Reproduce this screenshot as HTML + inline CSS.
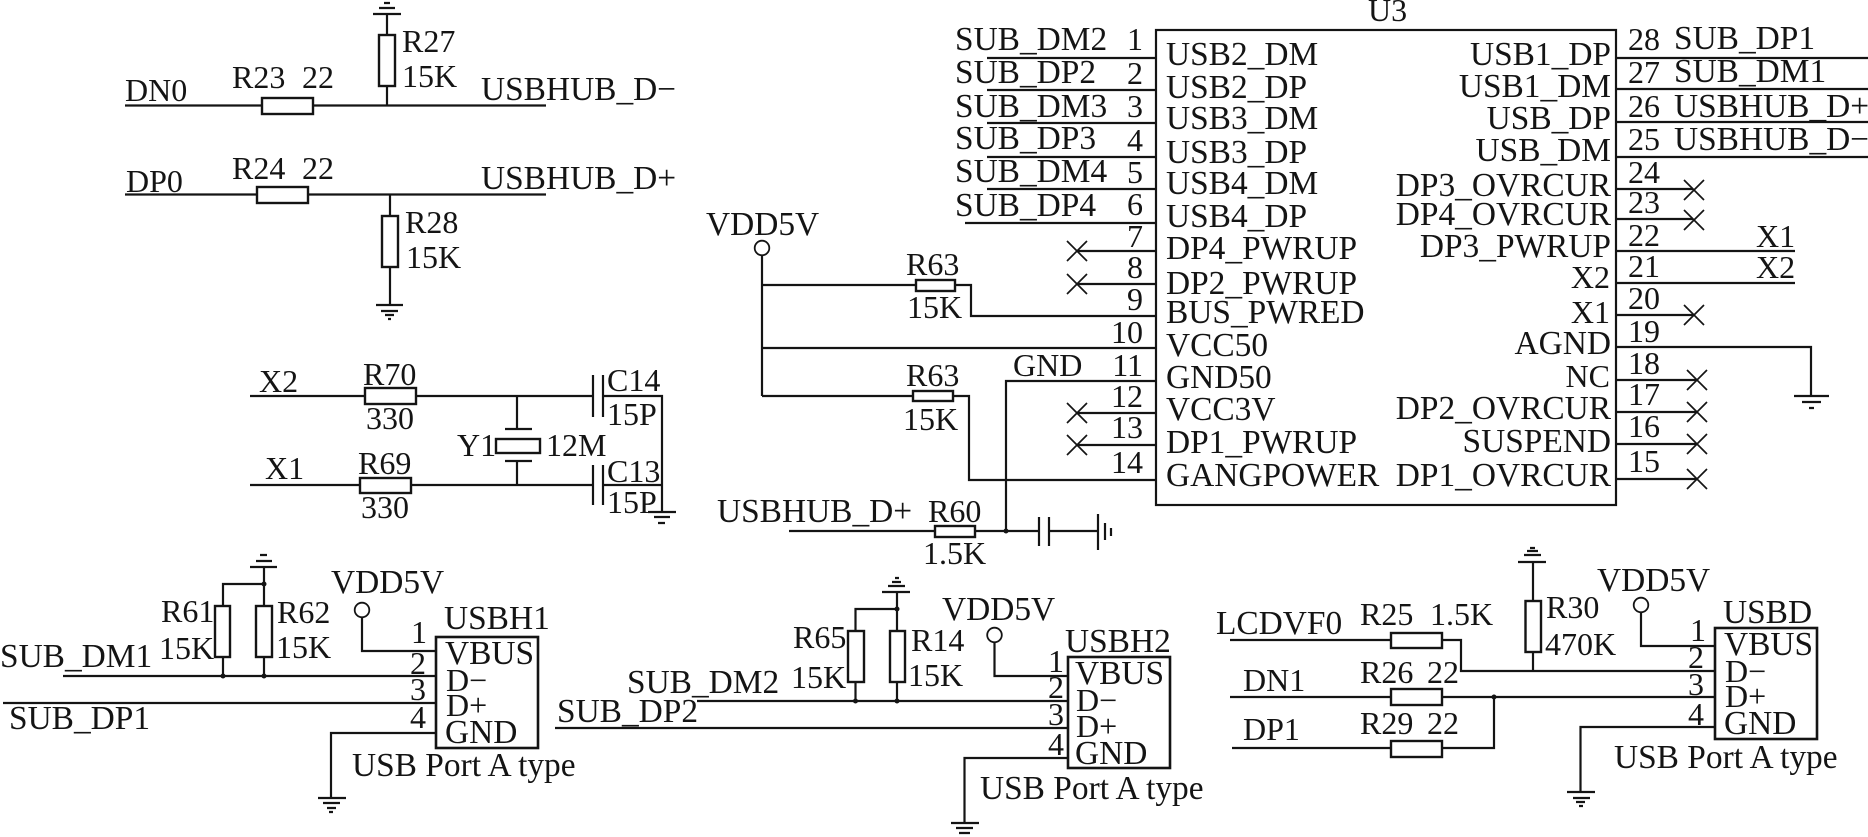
<!DOCTYPE html>
<html><head><meta charset="utf-8"><title>USB hub schematic</title>
<style>
html,body{margin:0;padding:0;background:#fff;width:1868px;height:837px;overflow:hidden}
svg{display:block}
text{font-family:"Liberation Serif",serif;font-size:32px;fill:#141414}
text.l{font-size:33.4px}
.e{text-anchor:end}
.w{fill:none;stroke:#141414;stroke-width:2.2}
.t{fill:none;stroke:#141414;stroke-width:1.7}
.r{fill:#fff;stroke:#141414;stroke-width:2.4}
</style></head><body>
<svg width="1868" height="837" viewBox="0 0 1868 837" xmlns="http://www.w3.org/2000/svg">

<!-- Group 1 -->
<path class="w" d="M125 105.5H262M313 105.5H546M387 14V35M387 86V105.5M125 194.5H257M308 194.5H546M390 194.5V216M390 267V305"/>
<path class="w" d="M373 14H401M379 8H395M384 3H390M376 305H403M381 311H398M385 315H394M388 319H391"/>
<rect class="r" x="262" y="98" width="51" height="16"/>
<rect class="r" x="379" y="35" width="16" height="51"/>
<rect class="r" x="257" y="187" width="51" height="16"/>
<rect class="r" x="382" y="216" width="16" height="51"/>
<text x="125" y="101">DN0</text><text x="232" y="88">R23</text><text x="302" y="88">22</text>
<text x="402" y="52">R27</text><text x="402" y="87">15K</text><text class="l" x="481" y="100">USBHUB_D−</text>
<text x="126" y="192">DP0</text><text x="232" y="179">R24</text><text x="302" y="179">22</text>
<text class="l" x="481" y="189">USBHUB_D+</text><text x="405" y="233">R28</text><text x="406" y="268">15K</text>

<!-- Group 2 crystal -->
<path class="w" d="M250 396H365M416 396H593M603 396H662V512M250 485H360M411 485H593M603 485H662M517 396V429M517 461V485"/>
<path class="w" d="M593 375V417M603 375V417M593 465V505M603 465V505M505 429H532M505 461H532M648 512H676M654 517H670M658 523H665"/>
<rect class="r" x="365" y="388" width="51" height="16"/>
<rect class="r" x="360" y="478" width="51" height="15"/>
<rect class="r" x="496" y="439" width="44" height="14"/>
<text x="259" y="392">X2</text><text x="363" y="385">R70</text><text x="366" y="429">330</text>
<text x="607" y="391">C14</text><text x="607" y="425">15P</text>
<text x="457" y="456">Y1</text><text x="546" y="456">12M</text>
<text x="265" y="479">X1</text><text x="358" y="474">R69</text><text x="361" y="518">330</text>
<text x="607" y="482">C13</text><text x="607" y="513">15P</text>

<!-- U3 -->
<rect class="w" x="1156" y="30" width="460" height="475"/>
<text x="1368" y="21">U3</text>
<path class="w" d="M987 58H1156M987 90H1156M987 123H1156M987 157H1156M987 189H1156M965 223H1156M1076 251H1156M1076 284H1156"/>
<path class="t" d="M1067 241L1087 261M1087 241L1067 261M1067 274L1087 294M1087 274L1067 294M1067 403L1087 423M1087 403L1067 423M1067 435L1087 455M1087 435L1067 455"/>
<path class="w" d="M762 255V396M762 285H916M955 285H971V316H1156M762 348H1156M762 396H913M953 396H969V480H1156M1006 531V381H1156M1076 413H1156M1076 445H1156"/>
<circle class="w" cx="762" cy="248" r="7.3" style="stroke-width:1.8"/>
<rect class="r" x="916" y="280" width="39" height="11"/>
<rect class="r" x="913" y="391" width="40" height="10"/>
<path class="w" d="M789 531H935M975 531H1039M1049 531H1098M1039 517V546M1049 517V546M1098 514V550M1105 523V540M1111 528V536"/>
<rect class="r" x="935" y="526" width="40" height="11"/>
<circle cx="1006" cy="531" r="2.5" fill="#141414"/>

<text class="l" x="706" y="235">VDD5V</text><text x="906" y="275">R63</text><text x="907" y="318">15K</text>
<text x="906" y="386">R63</text><text x="903" y="430">15K</text><text x="1013" y="376">GND</text>
<text class="l" x="717" y="522">USBHUB_D+</text><text x="928" y="522">R60</text><text x="923" y="564">1.5K</text>

<text class="l" x="955" y="50">SUB_DM2</text><text class="l" x="955" y="83">SUB_DP2</text><text class="l" x="955" y="117">SUB_DM3</text>
<text class="l" x="955" y="149">SUB_DP3</text><text class="l" x="955" y="182">SUB_DM4</text><text class="l" x="955" y="216">SUB_DP4</text>

<text class="e" x="1143" y="50">1</text><text class="e" x="1143" y="84">2</text><text class="e" x="1143" y="117">3</text>
<text class="e" x="1143" y="151">4</text><text class="e" x="1143" y="183">5</text><text class="e" x="1143" y="215">6</text>
<text class="e" x="1143" y="247">7</text><text class="e" x="1143" y="278">8</text><text class="e" x="1143" y="310">9</text>
<text class="e" x="1143" y="343">10</text><text class="e" x="1143" y="376">11</text><text class="e" x="1143" y="407">12</text>
<text class="e" x="1143" y="438">13</text><text class="e" x="1143" y="473">14</text>

<text class="l" x="1166" y="65">USB2_DM</text><text class="l" x="1166" y="98">USB2_DP</text><text class="l" x="1166" y="129">USB3_DM</text>
<text class="l" x="1166" y="163">USB3_DP</text><text class="l" x="1166" y="194">USB4_DM</text><text class="l" x="1166" y="227">USB4_DP</text>
<text class="l" x="1166" y="259">DP4_PWRUP</text><text class="l" x="1166" y="294">DP2_PWRUP</text><text class="l" x="1166" y="323">BUS_PWRED</text>
<text class="l" x="1166" y="356">VCC50</text><text class="l" x="1166" y="388">GND50</text><text class="l" x="1166" y="420">VCC3V</text>
<text class="l" x="1166" y="453">DP1_PWRUP</text><text class="l" x="1166" y="486">GANGPOWER</text>

<text class="e l" x="1611" y="65">USB1_DP</text><text class="e l" x="1611" y="97">USB1_DM</text><text class="e l" x="1611" y="129">USB_DP</text>
<text class="e l" x="1611" y="161">USB_DM</text><text class="e l" x="1611" y="196">DP3_OVRCUR</text><text class="e l" x="1611" y="225">DP4_OVRCUR</text>
<text class="e l" x="1611" y="257">DP3_PWRUP</text><text class="e" x="1610" y="288">X2</text><text class="e" x="1610" y="323">X1</text>
<text class="e l" x="1611" y="354">AGND</text><text class="e" x="1610" y="387">NC</text><text class="e l" x="1611" y="419">DP2_OVRCUR</text>
<text class="e l" x="1611" y="452">SUSPEND</text><text class="e l" x="1611" y="486">DP1_OVRCUR</text>

<text x="1628" y="50">28</text><text x="1628" y="83">27</text><text x="1628" y="117">26</text><text x="1628" y="150">25</text>
<text x="1628" y="183">24</text><text x="1628" y="213">23</text><text x="1628" y="246">22</text><text x="1628" y="277">21</text>
<text x="1628" y="309">20</text><text x="1628" y="342">19</text><text x="1628" y="374">18</text><text x="1628" y="405">17</text>
<text x="1628" y="437">16</text><text x="1628" y="472">15</text>

<text class="l" x="1674" y="49">SUB_DP1</text><text class="l" x="1674" y="82">SUB_DM1</text><text class="l" x="1674" y="117">USBHUB_D+</text><text class="l" x="1674" y="150">USBHUB_D−</text>
<text x="1756" y="247">X1</text><text x="1756" y="278">X2</text>

<path class="w" d="M1616 58H1868M1616 89H1868M1616 122H1868M1616 157H1868M1616 189H1693M1616 219H1693M1616 251H1795M1616 283H1795M1616 315H1693M1616 347H1811V396M1616 380H1696M1616 412H1696M1616 444H1696M1616 479H1696"/>
<path class="w" d="M1794 396H1829M1802 402H1821M1809 408H1814"/>
<path class="t" d="M1684 180L1704 200M1704 180L1684 200M1684 210L1704 230M1704 210L1684 230M1684 305L1704 325M1704 305L1684 325M1687 370L1707 390M1707 370L1687 390M1687 402L1707 422M1707 402L1687 422M1687 434L1707 454M1707 434L1687 454M1687 469L1707 489M1707 469L1687 489"/>

<!-- USBH1 -->
<path class="w" d="M264 567V606M264 657V676M223 606V584H264M223 657V676M63 676H436M3 703H436M362 618V651H436M436 733H331V798"/>
<path class="w" d="M250 567H277M256 561H272M260 555H267M318 798H346M323 803H340M327 808H336M329 812H333"/>
<rect class="r" x="215" y="606" width="15" height="51"/>
<rect class="r" x="256" y="606" width="16" height="51"/>
<rect class="w" x="436" y="637" width="102" height="111" style="stroke-width:2.6"/>
<circle class="w" cx="362" cy="610" r="7.3" style="stroke-width:1.8"/>
<g fill="#141414"><circle cx="223" cy="676" r="2.5"/><circle cx="264" cy="676" r="2.5"/><circle cx="264" cy="584" r="2.5"/></g>
<text x="161" y="622">R61</text><text x="159" y="659">15K</text><text x="277" y="623">R62</text><text x="276" y="658">15K</text>
<text class="l" x="0" y="667">SUB_DM1</text><text class="l" x="9" y="729">SUB_DP1</text><text class="l" x="331" y="593">VDD5V</text><text class="l" x="444" y="629">USBH1</text>
<text x="411" y="643">1</text><text x="410" y="674">2</text><text x="410" y="700">3</text><text x="410" y="728">4</text>
<text class="l" x="445" y="664">VBUS</text><text x="446" y="691">D−</text><text x="446" y="716">D+</text><text class="l" x="445" y="743">GND</text>
<text class="l" x="352" y="776">USB Port A type</text>

<!-- USBH2 -->
<path class="w" d="M897 592V631M897 682V701M855.500 631V609H897M855.500 682V701M697 701H1068M555 728H1068M994.500 643V676H1068M1068 758H964.500V823"/>
<path class="w" d="M882 592H910M888 586H905M892 582H901M895 578H899M951 823H979M956 828H973M959 833H970"/>
<rect class="r" x="848" y="631" width="16" height="51"/>
<rect class="r" x="890" y="631" width="15" height="51"/>
<rect class="w" x="1068" y="657" width="102" height="111" style="stroke-width:2.6"/>
<circle class="w" cx="994.500" cy="635" r="7.3" style="stroke-width:1.8"/>
<g fill="#141414"><circle cx="855.500" cy="701" r="2.5"/><circle cx="897" cy="701" r="2.5"/><circle cx="897" cy="609" r="2.5"/></g>
<text x="793" y="648">R65</text><text x="791" y="688">15K</text><text x="911" y="651">R14</text><text x="908" y="686">15K</text>
<text class="l" x="627" y="693">SUB_DM2</text><text class="l" x="557" y="722">SUB_DP2</text><text class="l" x="942" y="620">VDD5V</text><text class="l" x="1065" y="652">USBH2</text>
<text x="1048" y="672">1</text><text x="1048" y="698">2</text><text x="1048" y="725">3</text><text x="1048" y="755">4</text>
<text class="l" x="1075" y="684">VBUS</text><text x="1076" y="711">D−</text><text x="1076" y="737">D+</text><text class="l" x="1075" y="764">GND</text>
<text class="l" x="980" y="799">USB Port A type</text>

<!-- USBD -->
<path class="w" d="M1533 562V601M1533 652V671M1230 640H1391M1442 640H1461V671H1715M1230 697H1391M1442 697H1715M1232 748H1391M1442 748H1494V697M1641 613V646H1715M1715 727H1580.500V792"/>
<path class="w" d="M1518 562H1546M1524 555H1541M1527 551H1538M1530 548H1535M1567 792H1595M1573 798H1590M1576 802H1585M1579 806H1583"/>
<rect class="r" x="1525.500" y="601" width="15.500" height="51"/>
<rect class="r" x="1391" y="633" width="51" height="15"/>
<rect class="r" x="1391" y="689" width="51" height="16"/>
<rect class="r" x="1391" y="741" width="51" height="16"/>
<rect class="w" x="1715" y="628" width="102" height="111" style="stroke-width:2.6"/>
<circle class="w" cx="1641" cy="605" r="7.3" style="stroke-width:1.8"/>
<circle cx="1494" cy="697" r="2.5" fill="#141414"/>
<text x="1546" y="618">R30</text><text x="1545" y="655">470K</text><text class="l" x="1597" y="591">VDD5V</text><text class="l" x="1723" y="623">USBD</text>
<text class="l" x="1216" y="634">LCDVF0</text><text x="1360" y="625">R25</text><text x="1430" y="625">1.5K</text>
<text x="1243" y="691">DN1</text><text x="1360" y="683">R26</text><text x="1427" y="683">22</text>
<text x="1243" y="740">DP1</text><text x="1360" y="734">R29</text><text x="1427" y="734">22</text>
<text x="1690" y="641">1</text><text x="1688" y="668">2</text><text x="1688" y="695">3</text><text x="1688" y="725">4</text>
<text class="l" x="1724" y="655">VBUS</text><text x="1725" y="682">D−</text><text x="1725" y="707">D+</text><text class="l" x="1724" y="734">GND</text>
<text class="l" x="1614" y="768">USB Port A type</text>
</svg>
</body></html>
